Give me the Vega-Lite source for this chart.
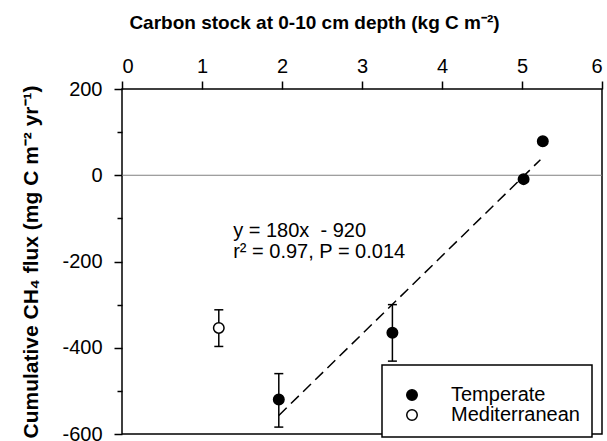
{
  "$schema": "https://vega.github.io/schema/vega-lite/v6.json",
  "width": 480,
  "height": 345,
  "autosize": "none",
  "padding": {"left": 122, "top": 89, "right": 5, "bottom": 7},
  "background": "white",
  "config": {
    "view": {"stroke": "black", "strokeWidth": 1.5},
    "font": "Liberation Sans",
    "axis": {"domain": false, "grid": false, "tickColor": "black", "tickWidth": 1.5, "labelColor": "black", "titleColor": "black", "labelFont": "Liberation Sans", "titleFont": "Liberation Sans", "labelFontSize": 20, "titleFontSize": 19, "titleFontWeight": "bold"},
    "legend": {"strokeWidth": 1.5}
  },
  "datasets": {
    "pts": [
      {"x": 1.96, "y": -520, "group": "Temperate"},
      {"x": 3.38, "y": -365, "group": "Temperate"},
      {"x": 5.02, "y": -9, "group": "Temperate"},
      {"x": 5.26, "y": 79, "group": "Temperate"},
      {"x": 1.21, "y": -354, "group": "Mediterranean"}
    ],
    "err": [
      {"x": 1.96, "lo": -584, "hi": -460},
      {"x": 3.38, "lo": -431, "hi": -300},
      {"x": 1.21, "lo": -397, "hi": -312}
    ],
    "fit": [
      {"x": 1.96, "y": -557},
      {"x": 5.23, "y": 36}
    ],
    "zero": [{"y": 0}],
    "ann": [
      {"x": 1.39, "y": -129, "label": "y = 180x \u00a0- 920"},
      {"x": 1.39, "y": -177, "label": "r² = 0.97, P = 0.014"}
    ]
  },
  "layer": [
    {
      "data": {"name": "zero"},
      "mark": {"type": "rule", "color": "#808080", "strokeWidth": 1},
      "encoding": {
        "y": {"field": "y", "type": "quantitative", "scale": {"domain": [-600, 200], "nice": false, "zero": false},
          "axis": {"orient": "left", "values": [-600, -500, -400, -300, -200, -100, 0, 100, 200],
            "labelExpr": "datum.value % 200 === 0 ? '' + datum.value : ''",
            "tickSize": {"condition": {"test": "datum.value % 200 === 0", "value": 8}, "value": 5},
            "labelPadding": 12, "titlePadding": 20, "titleFontSize": 21,
            "title": "Cumulative CH₄ flux (mg C m⁻² yr⁻¹)"}}
      }
    },
    {
      "data": {"name": "fit"},
      "mark": {"type": "line", "color": "black", "strokeWidth": 1.5, "strokeDash": [11, 6]},
      "encoding": {
        "x": {"field": "x", "type": "quantitative", "scale": {"domain": [0, 6], "nice": false, "zero": false},
          "axis": {"orient": "top", "values": [0, 1, 2, 3, 4, 5, 6], "tickSize": 8, "labelPadding": 5, "titlePadding": 24,
            "labelExpr": "'' + datum.value", "titleX": 192, "titleAlign": "center",
            "title": "Carbon stock at 0-10 cm depth (kg C m⁻²)"}},
        "y": {"field": "y", "type": "quantitative"}
      }
    },
    {
      "data": {"name": "err"},
      "mark": {"type": "rule", "color": "black", "strokeWidth": 1.5},
      "encoding": {
        "x": {"field": "x", "type": "quantitative"},
        "y": {"field": "lo", "type": "quantitative"},
        "y2": {"field": "hi"}
      }
    },
    {
      "data": {"name": "err"},
      "mark": {"type": "tick", "orient": "horizontal", "color": "black", "size": 9, "thickness": 1.5, "opacity": 1},
      "encoding": {
        "x": {"field": "x", "type": "quantitative"},
        "y": {"field": "lo", "type": "quantitative"}
      }
    },
    {
      "data": {"name": "err"},
      "mark": {"type": "tick", "orient": "horizontal", "color": "black", "size": 9, "thickness": 1.5, "opacity": 1},
      "encoding": {
        "x": {"field": "x", "type": "quantitative"},
        "y": {"field": "hi", "type": "quantitative"}
      }
    },
    {
      "data": {"name": "pts"},
      "mark": {"type": "point", "shape": "circle", "size": 110, "filled": true, "stroke": "black", "strokeWidth": 1.5, "opacity": 1},
      "encoding": {
        "x": {"field": "x", "type": "quantitative"},
        "y": {"field": "y", "type": "quantitative"},
        "fill": {"field": "group", "type": "nominal",
          "scale": {"domain": ["Temperate", "Mediterranean"], "range": ["black", "white"]},
          "legend": {"orient": "none", "legendX": 260, "legendY": 276,
            "title": "\u00a0\u00a0\u00a0\u00a0\u00a0\u00a0\u00a0\u00a0\u00a0\u00a0\u00a0\u00a0\u00a0\u00a0\u00a0\u00a0\u00a0\u00a0\u00a0\u00a0\u00a0\u00a0\u00a0\u00a0\u00a0\u00a0\u00a0\u00a0\u00a0\u00a0\u00a0\u00a0\u00a0\u00a0\u00a0\u00a0\u00a0\u00a0\u00a0\u00a0\u00a0\u00a0\u00a0\u00a0\u00a0\u00a0\u00a0\u00a0\u00a0\u00a0\u00a0\u00a0\u00a0\u00a0\u00a0\u00a0\u00a0\u00a0\u00a0\u00a0\u00a0\u00a0\u00a0\u00a0\u00a0\u00a0\u00a0\u00a0\u00a0\u00a0\u00a0\u00a0\u00a0\u00a0\u00a0\u00a0\u00a0\u00a0\u00a0\u00a0\u00a0\u00a0\u00a0\u00a0\u00a0\u00a0\u00a0\u00a0\u00a0\u00a0",
            "titleFontSize": 8, "titlePadding": 0, "titleLimit": 400,
            "strokeColor": "black", "fillColor": "white", "padding": 12, "rowPadding": -2,
            "symbolOffset": 8, "labelOffset": 29, "symbolType": "circle", "symbolSize": 110,
            "symbolStrokeColor": "black", "symbolStrokeWidth": 1.5, "labelFontSize": 20,
            "labelFont": "Liberation Sans", "labelColor": "black"}}
      }
    },
    {
      "data": {"name": "ann"},
      "mark": {"type": "text", "align": "left", "baseline": "middle", "fontSize": 20, "font": "Liberation Sans", "color": "black"},
      "encoding": {
        "x": {"field": "x", "type": "quantitative"},
        "y": {"field": "y", "type": "quantitative"},
        "text": {"field": "label"}
      }
    }
  ]
}
